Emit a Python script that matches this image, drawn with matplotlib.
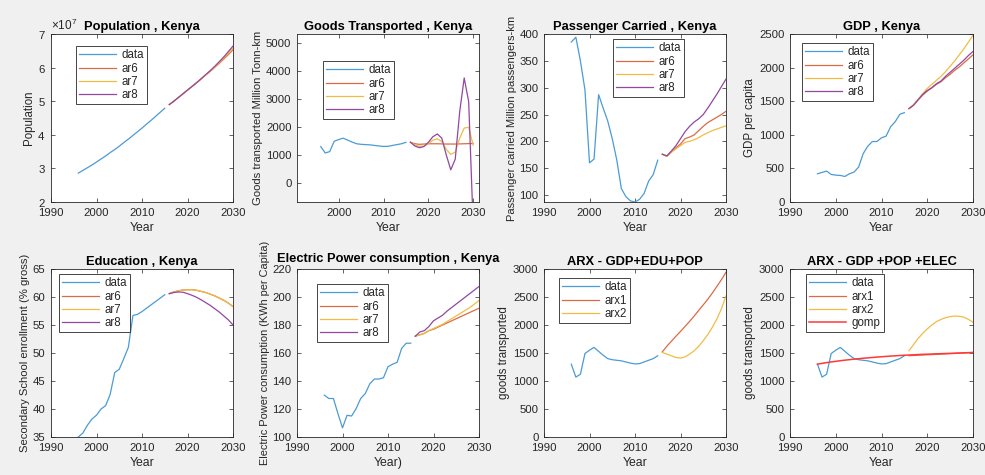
import numpy as np
import matplotlib
matplotlib.use("Agg")
import matplotlib.pyplot as plt
from matplotlib.ticker import ScalarFormatter

plt.rcParams['font.family'] = ['Liberation Sans', 'DejaVu Sans']
plt.rcParams['mathtext.fontset'] = 'custom'
plt.rcParams['mathtext.rm'] = 'Liberation Sans'

# Datos
years_data = np.arange(1996, 2016)
years_fc = np.arange(2016, 2031)
years_all = np.arange(1996, 2031)

pop_data = [28.6, 29.4, 30.2, 31.0, 31.9, 32.8, 33.7, 34.7, 35.6, 36.6,
            37.7, 38.7, 39.8, 40.9, 42.0, 43.2, 44.3, 45.5, 46.7, 47.9]
pop_ar6 = [49.0, 50.0, 51.1, 52.2, 53.3, 54.4, 55.5, 56.6, 57.8, 58.9, 60.1, 61.3, 62.6, 63.9, 65.3]
pop_ar7 = [49.0, 50.0, 51.1, 52.2, 53.3, 54.4, 55.5, 56.6, 57.8, 59.0, 60.2, 61.5, 62.9, 64.3, 65.8]
pop_ar8 = [49.0, 50.0, 51.1, 52.2, 53.3, 54.4, 55.5, 56.7, 57.9, 59.1, 60.4, 61.8, 63.2, 64.8, 66.4]

goods_data = [1300, 1070, 1120, 1490, 1550, 1600, 1530, 1460, 1400, 1380,
              1370, 1360, 1340, 1320, 1305, 1310, 1340, 1370, 1400, 1450]
goods_ar6 = [1455, 1400, 1380, 1390, 1400, 1400, 1400, 1395, 1390, 1390, 1390, 1395, 1400, 1405, 1410]
goods_ar7 = [1455, 1360, 1310, 1320, 1400, 1530, 1580, 1480, 1200, 1020, 1100, 1600, 1960, 1990, 1350]
goods_ar8 = [1455, 1320, 1260, 1300, 1450, 1650, 1750, 1600, 1000, 470, 850, 2550, 3750, 2900, -1500]

pass_data = [385, 394, 350, 296, 160, 167, 287, 262, 238, 205,
             165, 112, 97, 89, 87, 92, 103, 126, 138, 165]
pass_ar6 = [176, 172, 180, 188, 195, 205, 208, 212, 220, 228, 235, 240, 245, 250, 256]
pass_ar7 = [176, 172, 180, 186, 192, 198, 200, 203, 207, 212, 216, 220, 223, 226, 229]
pass_ar8 = [176, 173, 182, 192, 205, 218, 228, 236, 242, 250, 262, 275, 288, 302, 316]

gdp_data = [420, 440, 460, 410, 400, 395, 380, 420, 445, 520,
            720, 830, 900, 900, 955, 980, 1120, 1195, 1305, 1330]
gdp_ar6 = [1390, 1440, 1520, 1590, 1650, 1700, 1750, 1790, 1850, 1900, 1960, 2010, 2070, 2130, 2190]
gdp_ar7 = [1390, 1450, 1530, 1610, 1690, 1750, 1810, 1870, 1940, 2020, 2100, 2190, 2280, 2380, 2480]
gdp_ar8 = [1390, 1440, 1520, 1600, 1660, 1700, 1760, 1800, 1870, 1930, 1990, 2050, 2110, 2180, 2240]

edu_data = [35.0, 35.7, 37.1, 38.2, 38.9, 40.0, 40.6, 42.6, 46.5, 47.1,
            49.0, 51.0, 56.7, 56.9, 57.4, 58.0, 58.6, 59.2, 59.8, 60.4]
edu_ar6 = [60.6, 60.9, 61.1, 61.25, 61.3, 61.3, 61.2, 61.0, 60.8, 60.5, 60.2, 59.8, 59.4, 58.9, 58.3]
edu_ar7 = [60.6, 60.9, 61.1, 61.25, 61.3, 61.3, 61.2, 61.0, 60.8, 60.5, 60.2, 59.8, 59.4, 58.9, 58.3]
edu_ar8 = [60.6, 60.8, 60.9, 60.85, 60.6, 60.3, 59.95, 59.5, 59.0, 58.5, 57.9, 57.3, 56.6, 55.9, 55.0]

elec_data = [129.9, 127.5, 127.5, 116.7, 106.5, 115.5, 115.0, 120.3, 127.5, 131.0,
             138.0, 141.4, 141.4, 142.3, 150.2, 152.0, 153.3, 163.3, 167.0, 167.0]
elec_ar6 = [172, 173, 174, 176, 177, 178.5, 180, 181.5, 183, 184.5, 186, 187.5, 189, 190.5, 192]
elec_ar7 = [172, 173, 174, 176, 177.5, 179, 180.5, 182.5, 184.5, 186.5, 188.5, 190.5, 192.5, 195, 197.5]
elec_ar8 = [172, 175, 176, 179, 183, 185, 187, 190, 192.5, 195, 197.5, 200, 202.5, 205, 207.5]

arxa_arx1 = [1520, 1620, 1710, 1800, 1885, 1975, 2065, 2160, 2260, 2360, 2460, 2570, 2690, 2810, 2940]
arxa_arx2 = [1510, 1480, 1450, 1420, 1410, 1430, 1480, 1540, 1620, 1720, 1830, 1960, 2110, 2290, 2520]

arxb_arx1 = [1452, 1456, 1460, 1464, 1468, 1472, 1476, 1480, 1484, 1488, 1492, 1496, 1500, 1504, 1508]
arxb_arx2 = [1540, 1650, 1760, 1850, 1930, 2000, 2060, 2100, 2130, 2150, 2160, 2155, 2140, 2100, 2050]
gomp = [1300, 1315, 1328, 1340, 1351, 1362, 1372, 1381, 1390, 1398,
        1406, 1413, 1420, 1427, 1433, 1439, 1445, 1450, 1455, 1460,
        1464, 1468, 1472, 1476, 1479, 1482, 1485, 1488, 1491, 1494,
        1497, 1500, 1503, 1506, 1510]

# Colores estilo MATLAB
C_BLUE = '#4a9bd6'
C_RED = '#dc6a45'
C_YEL = '#f0bc45'
C_PUR = '#9048a0'
C_AX = '#262626'

W, H = 985, 475
fig = plt.figure(figsize=(W / 100, H / 100), dpi=100, facecolor='#f0f0f0')


def make_ax(x0, x1, y0, y1):
    ax = fig.add_axes([x0 / W, (H - y1) / H, (x1 - x0) / W, (y1 - y0) / H])
    ax.tick_params(direction='in', top=True, right=True, length=3, width=0.5,
                   labelsize=8.2, colors=C_AX)
    ax.tick_params(axis='x', pad=4)
    ax.tick_params(axis='y', pad=4)
    for s in ax.spines.values():
        s.set_color(C_AX)
        s.set_linewidth(0.6)
    return ax


def legend(ax, x0, y0, labels):
    leg = ax.legend(labels, loc='upper left', bbox_to_anchor=(x0 / W, 1 - y0 / H),
                    bbox_transform=fig.transFigure, fontsize=8.3, frameon=True,
                    fancybox=False, edgecolor=C_AX, framealpha=1, borderaxespad=0,
                    handlelength=3.2, handletextpad=0.45, labelspacing=0.1,
                    borderpad=0.3)
    leg.get_frame().set_linewidth(0.6)
    for t in leg.get_texts():
        t.set_color(C_AX)


def finish(ax, title, ylabel, xlabel='Year', ysize=8.3, tpad=3):
    ax.set_title(title, fontsize=9.3, fontweight='bold', color='black', pad=tpad)
    ax.set_ylabel(ylabel, fontsize=ysize, color=C_AX, labelpad=2)
    ax.set_xlabel(xlabel, fontsize=8.8, color=C_AX, labelpad=3)


LW = 0.9
cols = [(51, 233), (297, 479), (544, 726), (790, 973)]
rows = [(34, 202), (269, 437)]

# Population
ax = make_ax(*cols[0], *rows[0])
ax.plot(years_data, np.array(pop_data) * 1e6, color=C_BLUE, lw=LW)
ax.plot(years_fc, np.array(pop_ar6) * 1e6, color=C_RED, lw=LW)
ax.plot(years_fc, np.array(pop_ar7) * 1e6, color=C_YEL, lw=LW)
ax.plot(years_fc, np.array(pop_ar8) * 1e6, color=C_PUR, lw=LW)
ax.set_xlim(1990, 2030)
ax.set_ylim(2e7, 7e7)
fmt = ScalarFormatter(useMathText=True)
fmt.set_powerlimits((0, 0))
ax.yaxis.set_major_formatter(fmt)
ax.yaxis.get_offset_text().set_fontsize(8.5)
ax.yaxis.get_offset_text().set_color(C_AX)
finish(ax, 'Population , Kenya', 'Population')
legend(ax, 76, 46, ['data', 'ar6', 'ar7', 'ar8'])

# Goods
ax = make_ax(*cols[1], *rows[0])
ax.plot(years_data, goods_data, color=C_BLUE, lw=LW)
ax.plot(years_fc, goods_ar6, color=C_RED, lw=LW)
ax.plot(years_fc, goods_ar7, color=C_YEL, lw=LW)
ax.plot(years_fc, goods_ar8, color=C_PUR, lw=LW)
ax.set_xlim(1990.7, 2031.3)
ax.set_xticks([2000, 2010, 2020, 2030])
ax.set_ylim(-680, 5320)
ax.set_yticks([0, 1000, 2000, 3000, 4000, 5000])
finish(ax, 'Goods Transported , Kenya', 'Goods transported Million Tonn-km', ysize=8.1)
legend(ax, 323, 61, ['data', 'ar6', 'ar7', 'ar8'])

# Passenger
ax = make_ax(*cols[2], *rows[0])
ax.plot(years_data, pass_data, color=C_BLUE, lw=LW)
ax.plot(years_fc, pass_ar6, color=C_RED, lw=LW)
ax.plot(years_fc, pass_ar7, color=C_YEL, lw=LW)
ax.plot(years_fc, pass_ar8, color=C_PUR, lw=LW)
ax.set_xlim(1990, 2030)
ax.set_ylim(87, 400)
ax.set_yticks([100, 150, 200, 250, 300, 350, 400])
finish(ax, 'Passenger Carried , Kenya', 'Passenger carried Million passengers-km', ysize=8.0)
legend(ax, 613, 39, ['data', 'ar6', 'ar7', 'ar8'])

# GDP
ax = make_ax(*cols[3], *rows[0])
ax.plot(years_data, gdp_data, color=C_BLUE, lw=LW)
ax.plot(years_fc, gdp_ar6, color=C_RED, lw=LW)
ax.plot(years_fc, gdp_ar7, color=C_YEL, lw=LW)
ax.plot(years_fc, gdp_ar8, color=C_PUR, lw=LW)
ax.set_xlim(1990, 2030)
ax.set_ylim(0, 2500)
finish(ax, 'GDP , Kenya', 'GDP per capita')
legend(ax, 802, 43, ['data', 'ar6', 'ar7', 'ar8'])

# Education
ax = make_ax(*cols[0], *rows[1])
ax.plot(years_data, edu_data, color=C_BLUE, lw=LW)
ax.plot(years_fc, edu_ar6, color=C_RED, lw=LW)
ax.plot(years_fc, edu_ar7, color=C_YEL, lw=LW)
ax.plot(years_fc, edu_ar8, color=C_PUR, lw=LW)
ax.set_xlim(1990, 2030)
ax.set_ylim(35, 65)
finish(ax, 'Education , Kenya', 'Secondary School enrollment (% gross)', ysize=8.1)
legend(ax, 59, 274, ['data', 'ar6', 'ar7', 'ar8'])

# Electric power
ax = make_ax(*cols[1], *rows[1])
ax.plot(years_data, elec_data, color=C_BLUE, lw=LW)
ax.plot(years_fc, elec_ar6, color=C_RED, lw=LW)
ax.plot(years_fc, elec_ar7, color=C_YEL, lw=LW)
ax.plot(years_fc, elec_ar8, color=C_PUR, lw=LW)
ax.set_xlim(1990, 2030)
ax.set_ylim(100, 220)
finish(ax, 'Electric Power consumption , Kenya',
       'Electric Power consumption (KWh per Capita)', 'Year)', ysize=7.9, tpad=5)
legend(ax, 317, 284, ['data', 'ar6', 'ar7', 'ar8'])

# ARX 1
ax = make_ax(*cols[2], *rows[1])
ax.plot(years_data, goods_data, color=C_BLUE, lw=LW)
ax.plot(years_fc, arxa_arx1, color=C_RED, lw=LW)
ax.plot(years_fc, arxa_arx2, color=C_YEL, lw=LW)
ax.set_xlim(1990, 2030)
ax.set_ylim(0, 3000)
finish(ax, 'ARX - GDP+EDU+POP', 'goods transported')
legend(ax, 559, 278, ['data', 'arx1', 'arx2'])

# ARX 2
ax = make_ax(*cols[3], *rows[1])
ax.plot(years_data, goods_data, color=C_BLUE, lw=LW)
ax.plot(years_fc, arxb_arx1, color=C_RED, lw=LW)
ax.plot(years_fc, arxb_arx2, color=C_YEL, lw=LW)
ax.plot(years_all, gomp, color='#ff3838', lw=1.1)
ax.set_xlim(1990, 2030)
ax.set_ylim(0, 3000)
finish(ax, 'ARX - GDP +POP +ELEC', 'goods transported')
legend(ax, 806, 274, ['data', 'arx1', 'arx2', 'gomp'])

fig.savefig('out.png', dpi=100, facecolor=fig.get_facecolor())
